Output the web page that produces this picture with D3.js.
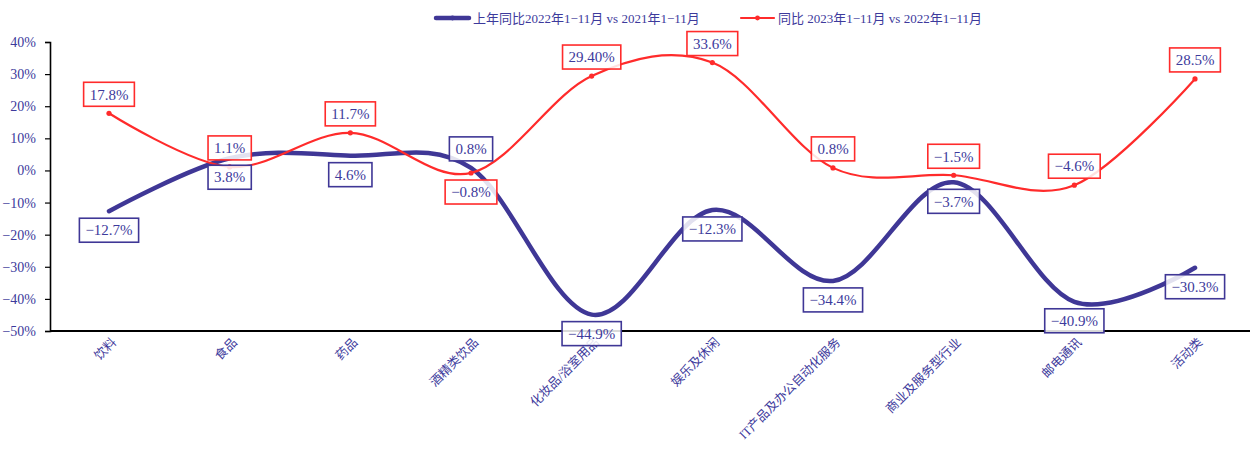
<!DOCTYPE html>
<html>
<head>
<meta charset="utf-8">
<script src="https://cdn.jsdelivr.net/npm/d3@7"></script>
<style>
  body { margin: 0; background: #fff; }
  svg { display: block; font-family: "Liberation Serif", "Noto Sans CJK SC", serif; }
</style>
</head>
<body>
<svg id="chart" width="1250" height="449"></svg>
<script>
// categories along the x axis
var categories = ["饮料", "食品", "药品", "酒精类饮品", "化妆品/浴室用品", "娱乐及休闲",
    "IT产品及办公自动化服务", "商业及服务型行业", "邮电通讯", "活动类"];

// 上年同比 2022 vs 2021 (%)
var prevYoY = [-12.7, 3.8, 4.6, 0.8, -44.9, -12.3, -34.4, -3.7, -40.9, -30.3];
var prevLabels = ["-12.7%", "3.8%", "4.6%", "0.8%", "-44.9%", "-12.3%", "-34.4%", "-3.7%", "-40.9%", "-30.3%"];
var prevLabelSide = ["below", "below", "below", "above", "below", "below", "below", "below", "below", "below"];

// 同比 2023 vs 2022 (%)
var currYoY = [17.8, 1.1, 11.7, -0.8, 29.4, 33.6, 0.8, -1.5, -4.6, 28.5];
var currLabels = ["17.8%", "1.1%", "11.7%", "-0.8%", "29.40%", "33.6%", "0.8%", "-1.5%", "-4.6%", "28.5%"];
var currLabelSide = ["above", "above", "above", "below", "above", "above", "above", "above", "above", "above"];

var yTicks = [40, 30, 20, 10, 0, -10, -20, -30, -40, -50];

var seriesNames = ["上年同比2022年1-11月 vs 2021年1-11月", "同比 2023年1-11月 vs 2022年1-11月"];

var BLUE = "#3f3796";
var RED = "#ff2b2b";
var TEXT = "#3d3a9c";

var svg = d3.select("#chart");

var x = d3.scalePoint()
    .domain(categories)
    .range([109, 1195]);

var y = d3.scaleLinear()
    .domain([-50, 40])
    .range([331, 42]);

function minusSign(s) {
    return s.replace("-", "\u2212");
}

// y axis
var yAxis = d3.axisLeft(y)
    .tickValues(yTicks)
    .tickSize(5)
    .tickFormat(function(d) { return minusSign(d + "%"); });

var gy = svg.append("g")
    .attr("transform", "translate(50,0)")
    .call(yAxis);
gy.select(".domain").attr("stroke", "#000").attr("stroke-width", 1.6);
gy.selectAll(".tick line").attr("stroke", "#000").attr("stroke-width", 1.2);
gy.selectAll(".tick text")
    .attr("x", -14)
    .attr("fill", TEXT)
    .style("font-size", "14px")
    .style("font-family", "'Liberation Serif', serif");

// x axis line
svg.append("line")
    .attr("x1", 50).attr("x2", 1250)
    .attr("y1", y(-50)).attr("y2", y(-50))
    .attr("stroke", "#000")
    .attr("stroke-width", 2.2);

// category labels, rotated
svg.append("g")
    .selectAll("text")
    .data(categories)
    .join("text")
    .attr("transform", function(d) { return "translate(" + (x(d) + 5) + "," + 340 + ") rotate(-45)"; })
    .attr("text-anchor", "end")
    .attr("dy", "0.35em")
    .attr("fill", TEXT)
    .style("font-size", "12.5px")
    .text(function(d) { return d; });

var line = d3.line()
    .x(function(d, i) { return x(categories[i]); })
    .y(function(d) { return y(d); })
    .curve(d3.curveCatmullRom.alpha(0));

// blue series first, red on top
svg.append("path")
    .datum(prevYoY)
    .attr("d", line)
    .attr("fill", "none")
    .attr("stroke", BLUE)
    .attr("stroke-width", 4.5)
    .attr("stroke-linecap", "round");

svg.append("path")
    .datum(currYoY)
    .attr("d", line)
    .attr("fill", "none")
    .attr("stroke", RED)
    .attr("stroke-width", 2.2);

svg.append("g")
    .selectAll("circle")
    .data(currYoY)
    .join("circle")
    .attr("cx", function(d, i) { return x(categories[i]); })
    .attr("cy", function(d) { return y(d); })
    .attr("r", 2.6)
    .attr("fill", RED);

// data labels in boxes
function drawLabels(values, labels, sides, color) {
    var g = svg.append("g");
    values.forEach(function(v, i) {
        var cx = x(categories[i]);
        var cy = y(v) + (sides[i] === "above" ? -19 : 19);
        var lg = g.append("g").attr("transform", "translate(" + cx + "," + cy + ")");
        var rect = lg.append("rect");
        var t = lg.append("text")
            .attr("text-anchor", "middle")
            .attr("dy", "0.35em")
            .attr("fill", TEXT)
            .style("font-size", "15px")
            .text(minusSign(labels[i]));
        var w = t.node().getComputedTextLength() + 12;
        rect.attr("x", -w / 2).attr("y", -12)
            .attr("width", w).attr("height", 24)
            .attr("fill", "#fff")
            .attr("fill-opacity", 0.85)
            .attr("stroke", color)
            .attr("stroke-width", 1.6);
    });
}

drawLabels(prevYoY, prevLabels, prevLabelSide, BLUE);
drawLabels(currYoY, currLabels, currLabelSide, RED);

// legend
var legend = svg.append("g").attr("transform", "translate(0,18)");
var legendItems = [
    { name: seriesNames[0], color: BLUE, width: 4.5, x: 436 },
    { name: seriesNames[1], color: RED, width: 2.2, x: 741 }
];
legendItems.forEach(function(item) {
    var lg = legend.append("g").attr("transform", "translate(" + item.x + ",0)");
    lg.append("line")
        .attr("x1", 0).attr("x2", 33)
        .attr("y1", 0).attr("y2", 0)
        .attr("stroke", item.color)
        .attr("stroke-width", item.width)
        .attr("stroke-linecap", "round");
    lg.append("circle")
        .attr("cx", 16.5).attr("cy", 0).attr("r", 2.4)
        .attr("fill", item.color);
    lg.append("text")
        .attr("x", 37)
        .attr("dy", "0.35em")
        .attr("fill", TEXT)
        .style("font-size", "13px")
        .text(item.name.replace(/-/g, "\u2212"));
});
</script>
</body>
</html>
